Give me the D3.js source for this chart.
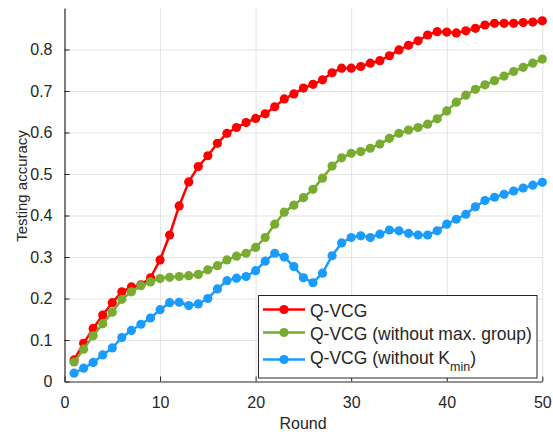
<!DOCTYPE html>
<html>
<head>
<meta charset="utf-8">
<script src="https://cdn.jsdelivr.net/npm/d3@7"></script>
<style>
  body { margin: 0; background: #fff; }
  text { font-family: "Liberation Sans", Arial, sans-serif; fill: #262626; }
</style>
</head>
<body>
<div class="chart"></div>
<script>
var svgWidth = 553;
var svgHeight = 434;

var margin = { top: 8, right: 10.7, bottom: 52.5, left: 64.5 };
var width = svgWidth - margin.left - margin.right;
var height = svgHeight - margin.top - margin.bottom;

// data
var rounds = [1, 2, 3, 4, 5, 6, 7, 8, 9, 10, 11, 12, 13, 14, 15, 16, 17, 18, 19, 20,
  21, 22, 23, 24, 25, 26, 27, 28, 29, 30, 31, 32, 33, 34, 35, 36, 37, 38, 39, 40,
  41, 42, 43, 44, 45, 46, 47, 48, 49, 50];

var qvcg = [0.052, 0.092, 0.128, 0.160, 0.190, 0.216, 0.228, 0.233, 0.250, 0.293,
  0.353, 0.423, 0.481, 0.518, 0.544, 0.574, 0.598, 0.612, 0.624, 0.634,
  0.645, 0.662, 0.681, 0.693, 0.707, 0.716, 0.727, 0.744, 0.755, 0.755,
  0.759, 0.767, 0.773, 0.785, 0.799, 0.810, 0.821, 0.835, 0.843, 0.842,
  0.840, 0.845, 0.851, 0.859, 0.863, 0.863, 0.863, 0.865, 0.866, 0.869];

var noMaxGroup = [0.047, 0.078, 0.110, 0.139, 0.167, 0.198, 0.216, 0.231, 0.240, 0.248,
  0.251, 0.253, 0.255, 0.258, 0.269, 0.279, 0.293, 0.302, 0.309, 0.323,
  0.347, 0.379, 0.408, 0.425, 0.443, 0.463, 0.490, 0.519, 0.539, 0.550,
  0.554, 0.562, 0.572, 0.586, 0.598, 0.606, 0.612, 0.620, 0.633, 0.652,
  0.673, 0.690, 0.704, 0.715, 0.725, 0.736, 0.747, 0.757, 0.767, 0.777];

var noKmin = [0.020, 0.032, 0.046, 0.064, 0.081, 0.106, 0.123, 0.138, 0.153, 0.173,
  0.190, 0.191, 0.183, 0.187, 0.200, 0.223, 0.243, 0.249, 0.253, 0.267,
  0.290, 0.309, 0.300, 0.277, 0.250, 0.238, 0.261, 0.303, 0.334, 0.347,
  0.351, 0.347, 0.355, 0.365, 0.363, 0.357, 0.353, 0.353, 0.363, 0.379,
  0.391, 0.403, 0.421, 0.436, 0.444, 0.451, 0.459, 0.466, 0.473, 0.480];

var xTicks = [0, 10, 20, 30, 40, 50];
var yTicks = [0, 0.1, 0.2, 0.3, 0.4, 0.5, 0.6, 0.7, 0.8];
var yTickLabels = ["0", "0.1", "0.2", "0.3", "0.4", "0.5", "0.6", "0.7", "0.8"];

var seriesNames = ["Q-VCG", "Q-VCG (without max. group)", "Q-VCG (without K"];
var seriesColors = ["#ff0000", "#77ac30", "#1a9cff"];
var seriesValues = [qvcg, noMaxGroup, noKmin];

var svg = d3.select(".chart")
  .append("svg")
  .attr("width", svgWidth)
  .attr("height", svgHeight);

var chartGroup = svg.append("g")
  .attr("transform", `translate(${margin.left}, ${margin.top})`);

var xScale = d3.scaleLinear().domain([0, 50]).range([0, width]);
var yScale = d3.scaleLinear().domain([0, 0.9]).range([height, 0]);

// grid
chartGroup.append("g")
  .attr("class", "grid")
  .attr("transform", `translate(0, ${height})`)
  .call(d3.axisBottom(xScale).tickValues(xTicks.slice(1)).tickSize(-height).tickFormat(""))
  .call(g => g.select(".domain").remove());

chartGroup.append("g")
  .attr("class", "grid")
  .call(d3.axisLeft(yScale).tickValues(yTicks.slice(1)).tickSize(-width).tickFormat(""))
  .call(g => g.select(".domain").remove());

chartGroup.selectAll(".grid line")
  .attr("stroke", "#e3e3e3")
  .attr("stroke-width", 1);

// series
var line = d3.line()
  .x((d, i) => xScale(rounds[i]))
  .y(d => yScale(d));

seriesValues.forEach(function(vals, k) {
  chartGroup.append("path")
    .attr("d", line(vals))
    .attr("fill", "none")
    .attr("stroke", seriesColors[k])
    .attr("stroke-width", 2.5)
    .attr("stroke-linejoin", "round");

  chartGroup.append("g")
    .selectAll("circle")
    .data(vals)
    .enter()
    .append("circle")
    .attr("cx", (d, i) => xScale(rounds[i]))
    .attr("cy", d => yScale(d))
    .attr("r", 4.6)
    .attr("fill", seriesColors[k]);
});

// axes, ticks pointing inward
var bottomAxis = d3.axisBottom(xScale)
  .tickValues(xTicks)
  .tickSizeInner(-5)
  .tickSizeOuter(0)
  .tickPadding(15);

var leftAxis = d3.axisLeft(yScale)
  .tickValues(yTicks)
  .tickSizeInner(-5)
  .tickSizeOuter(0)
  .tickPadding(12)
  .tickFormat((d, i) => yTickLabels[i]);

var xAxisG = chartGroup.append("g")
  .attr("transform", `translate(0, ${height})`)
  .call(bottomAxis);

var yAxisG = chartGroup.append("g")
  .call(leftAxis);

[xAxisG, yAxisG].forEach(function(g) {
  g.select(".domain").attr("stroke", "#262626").attr("stroke-width", 1.2);
  g.selectAll(".tick line").attr("stroke", "#262626").attr("stroke-width", 1);
  g.selectAll(".tick text")
    .attr("fill", "#262626")
    .style("font-size", "16px")
    .style("font-family", "Liberation Sans, Arial, sans-serif");
});

// axis labels
svg.append("text")
  .attr("x", 303)
  .attr("y", 429)
  .attr("text-anchor", "middle")
  .style("font-size", "16px")
  .text("Round");

svg.append("text")
  .attr("transform", "translate(27, 186) rotate(-90)")
  .attr("text-anchor", "middle")
  .style("font-size", "15px")
  .text("Testing accuracy");

// legend
var legend = svg.append("g");

legend.append("rect")
  .attr("x", 258.5)
  .attr("y", 295.5)
  .attr("width", 278.5)
  .attr("height", 82.5)
  .attr("fill", "#fff")
  .attr("stroke", "#262626")
  .attr("stroke-width", 1);

var rowLineY = [309.5, 332.5, 359.5];
var rowTextY = [316.5, 339.5, 364];

seriesNames.forEach(function(name, k) {
  legend.append("line")
    .attr("x1", 263)
    .attr("x2", 305)
    .attr("y1", rowLineY[k])
    .attr("y2", rowLineY[k])
    .attr("stroke", seriesColors[k])
    .attr("stroke-width", 2.5);

  legend.append("circle")
    .attr("cx", 284)
    .attr("cy", rowLineY[k])
    .attr("r", 4.6)
    .attr("fill", seriesColors[k]);

  var t = legend.append("text")
    .attr("x", 310)
    .attr("y", rowTextY[k])
    .style("font-size", "17.5px")
    .text(name);

  if (k === 2) {
    t.append("tspan")
      .attr("dy", 6.5)
      .style("font-size", "12.5px")
      .text("min");
    t.append("tspan")
      .attr("dy", -6.5)
      .text(")");
  }
});
</script>
</body>
</html>
